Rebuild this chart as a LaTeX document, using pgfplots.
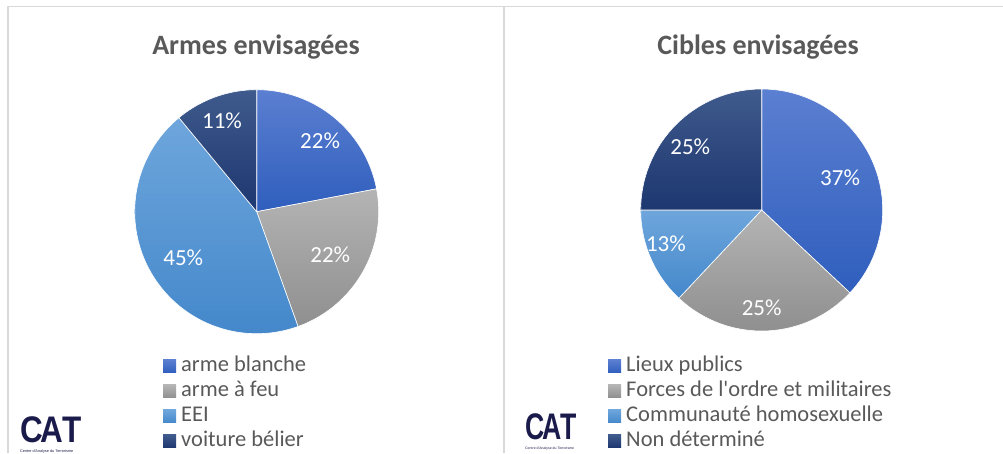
\documentclass[border=0pt]{standalone}
\usepackage{pgfplots}
\pgfplotsset{compat=1.18}
\usepgfplotslibrary{polar}
\usepackage{fontspec}
\setmainfont{Carlito}
\newfontfamily\logofont{Liberation Sans}
\definecolor{framec}{HTML}{D9D9D9}
\definecolor{txt}{HTML}{595959}
\definecolor{bT}{HTML}{5B7FD1}\definecolor{bB}{HTML}{2F5EBD}
\definecolor{gT}{HTML}{B4B4B4}\definecolor{gB}{HTML}{8F8F8F}
\definecolor{lT}{HTML}{6EA6DC}\definecolor{lB}{HTML}{4488CB}
\definecolor{nT}{HTML}{3F5A8C}\definecolor{nB}{HTML}{1D3770}
\definecolor{logoc}{HTML}{1B1B4B}
\pgfplotsset{
  pie/.style={hide axis, scale only axis, ymin=0, ymax=1, xmin=0, xmax=360, clip=false,
    legend cell align=left,
    legend image code/.code={\path[##1,draw=none] (0pt,-6.5pt) rectangle (13pt,6.5pt);\path[draw=none,fill=none,shade=false] (0pt,0pt) -- (18pt,0pt);},
  },
  lgd/.style={legend style={draw=none, fill=none, inner sep=0pt, anchor=north west,
    font=\fontsize{22.5}{22.5}\selectfont, text=txt, row sep=4.5pt,
    nodes={inner sep=0pt, text height=15.5pt, text depth=5pt}}},
  sl/.style 2 args={draw=white, line width=0.6pt, top color=#1, bottom color=#2, samples=90},
}
\tikzset{lbl/.style={text=white, font=\fontsize{23}{23}\selectfont}}
\begin{document}
\begin{tikzpicture}[x=1pt,y=1pt]
\draw[framec, line width=1.5pt] (8,0) -- (8,446.5) -- (1003,446.5);
\draw[framec, line width=1.5pt] (504,0) -- (504,446.5);
\node[anchor=base, text=txt, font=\fontsize{28}{30}\selectfont\bfseries] at (256,398) {Armes envisagées};
\node[anchor=base, text=txt, font=\fontsize{28}{30}\selectfont\bfseries] at (758,398) {Cibles envisagées};
% left pie: 22, 22.5, 44.5, 11 (%), clockwise from 12 o'clock
\begin{polaraxis}[pie, lgd, at={(256.7pt,241.3pt)}, anchor=center, width=244pt, height=244pt,
  legend style={at={(axis description cs:0.116,-0.0914)}}]
\addplot[sl={bT}{bB}, domain=10.8:90] {1} -- (axis cs:0,0) -- cycle;
\addlegendentry{arme blanche}
\addplot[sl={gT}{gB}, domain=-70.2:10.8] {1} -- (axis cs:0,0) -- cycle;
\addlegendentry{arme à feu}
\addplot[sl={lT}{lB}, domain=-230.4:-70.2] {1} -- (axis cs:0,0) -- cycle;
\addlegendentry{EEI}
\addplot[sl={nT}{nB}, domain=-270:-230.4] {1} -- (axis cs:0,0) -- cycle;
\addlegendentry{voiture bélier}
\node[lbl] at (axis cs:48.2,0.78) {22\%};
\node[lbl] at (axis cs:-30.5,0.70) {22\%};
\node[lbl] at (axis cs:212,0.71) {45\%};
\node[lbl] at (axis cs:110.8,0.80) {11\%};
\end{polaraxis}
% right pie: 37, 25, 13, 25 (%)
\begin{polaraxis}[pie, lgd, at={(761.7pt,243pt)}, anchor=center, width=242pt, height=242pt,
  legend style={at={(axis description cs:-0.135,-0.103)}}]
\addplot[sl={bT}{bB}, domain=-43.2:90] {1} -- (axis cs:0,0) -- cycle;
\addlegendentry{Lieux publics}
\addplot[sl={gT}{gB}, domain=-133.2:-43.2] {1} -- (axis cs:0,0) -- cycle;
\addlegendentry{Forces de l\textquotesingle ordre et militaires}
\addplot[sl={lT}{lB}, domain=-180:-133.2] {1} -- (axis cs:0,0) -- cycle;
\addlegendentry{Communauté homosexuelle}
\addplot[sl={nT}{nB}, domain=-270:-180] {1} -- (axis cs:0,0) -- cycle;
\addlegendentry{Non déterminé}
\node[lbl] at (axis cs:22.3,0.70) {37\%};
\node[lbl] at (axis cs:-90,0.81) {25\%};
\node[lbl] at (axis cs:199.5,0.84) {13\%};
\node[lbl] at (axis cs:138.4,0.79) {25\%};
\end{polaraxis}
% logos
\node[anchor=base west, inner sep=0pt, text=logoc] at (20,11) {\scalebox{0.85}[1]{\logofont\bfseries\fontsize{37}{37}\selectfont C\kern-2.5ptA\kern-1.5ptT}};
\node[anchor=base west, inner sep=0pt, text=logoc] at (20,0.8) {\logofont\fontsize{3.8}{4}\selectfont Centre d'Analyse du Terrorisme};
\node[anchor=base west, inner sep=0pt, text=logoc] at (525,13.5) {\scalebox{0.72}[1]{\logofont\bfseries\fontsize{37}{37}\selectfont C\kern-2.5ptA\kern-1.5ptT}};
\node[anchor=base west, inner sep=0pt, text=logoc] at (525,3.5) {\logofont\fontsize{3.5}{4}\selectfont Centre d'Analyse du Terrorisme};
\pgfresetboundingbox
\path (0,0) rectangle (1003,453);
\end{tikzpicture}
\end{document}
